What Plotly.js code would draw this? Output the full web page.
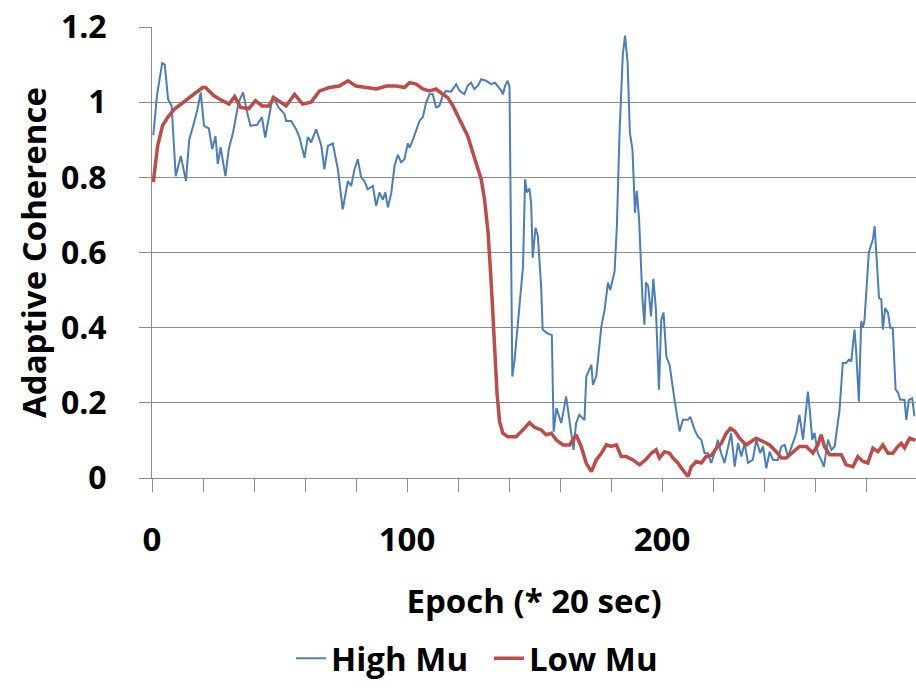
<!DOCTYPE html>
<html>
<head>
<meta charset="utf-8">
<script src="https://cdn.plot.ly/plotly-3.0.1.min.js"></script>
<style>
html,body{margin:0;padding:0;background:#fff;}
#chart{width:916px;height:692px;}
</style>
</head>
<body>
<div id="chart"></div>
<script>
// ---- data ----
const seriesNames = ["High Mu", "Low Mu"];

const highMuEpoch = [0.5,2,4,5,6.3,7.7,9.3,11.3,13.3,14.6,16.5,17.8,19.1,20.4,22.3,23.6,24.9,25.8,26.9,28.8,30.1,31.8,34,35.7,37.3,38.6,41.2,43.1,44.4,45.7,47.4,49.6,52,52.6,54.6,56.5,57.8,59.8,61.1,62.4,64.4,66.4,67.6,69,70.9,72.9,74.8,76.8,78.1,79.4,80.7,82,83.3,84.6,86.6,87.9,89.2,90.5,91.5,92.5,93.8,95.1,96.4,97.7,99,100.3,101,102.3,103.6,104.9,106.2,107.5,108.8,110.1,111.4,112.7,114,115.3,117.3,119.3,120.6,122.5,123.8,125.1,126.4,127.8,129.1,131,133,134.5,137,137.6,138.5,139.5,140.2,141.3,142.2,144.2,145.5,146.3,147,148,148.7,149.3,150.4,151.3,152.6,153.2,155,156.8,157.5,158.6,160.5,162.4,163.7,165.3,166.3,167.6,169.6,170.3,172.3,172.9,174.2,176.2,177.5,178.8,179.7,181.4,182.3,183.3,184.6,185.5,186.5,187.4,188.4,189.4,190.1,191,192.3,193.1,193.7,194.6,195.7,196.6,197.6,198.8,199.7,200.6,201.7,203,204.9,206.9,208.2,210.2,211.1,212.8,214.1,215.4,216.7,218,219.3,220.6,221.9,223.2,224.5,225.8,227.1,228.5,229.8,231.1,232.4,233.7,235.6,237,238.5,239.6,240.9,242.2,243.5,245.4,246.8,248.1,249.4,251.3,252.6,253.9,255.3,256.6,257.2,258.1,258.9,259.8,261.1,262.4,263.5,265.1,266.4,267.7,269.6,270.9,272.2,273.3,274.2,275.5,276.2,277.2,278.1,278.8,279.4,281.1,282.7,283.4,284.3,285.1,286,286.6,287.5,288.6,289.5,290.5,291.6,292.5,293.4,295.1,295.8,296.8,298.1,299];
const highMuValue = [0.912,1.02,1.104,1.1,1.008,0.99,0.803,0.857,0.79,0.9,0.946,0.98,1.026,0.937,0.93,0.875,0.91,0.835,0.88,0.803,0.875,0.92,1.0,1.026,0.973,0.937,0.94,0.96,0.906,0.955,1.017,0.986,0.968,0.95,0.95,0.928,0.907,0.852,0.907,0.893,0.928,0.884,0.821,0.884,0.89,0.821,0.715,0.79,0.777,0.821,0.848,0.8,0.79,0.768,0.777,0.724,0.76,0.74,0.76,0.72,0.757,0.83,0.86,0.84,0.848,0.89,0.879,0.9,0.928,0.95,0.96,0.999,1.021,1.021,0.986,0.99,1.017,1.03,1.028,1.048,1.03,1.021,1.044,1.052,1.035,1.044,1.061,1.057,1.048,1.052,1.03,1.021,1.044,1.057,1.04,0.27,0.315,0.457,0.563,0.795,0.76,0.77,0.73,0.586,0.666,0.645,0.51,0.395,0.385,0.38,0.123,0.186,0.146,0.217,0.154,0.075,0.146,0.168,0.154,0.27,0.301,0.248,0.27,0.403,0.448,0.52,0.5,0.55,0.67,0.91,1.124,1.177,1.106,0.919,0.874,0.706,0.764,0.69,0.48,0.408,0.52,0.51,0.43,0.53,0.45,0.235,0.42,0.44,0.323,0.3,0.208,0.124,0.155,0.155,0.163,0.128,0.11,0.102,0.066,0.066,0.04,0.066,0.102,0.066,0.04,0.084,0.119,0.03,0.093,0.057,0.093,0.04,0.048,0.102,0.066,0.084,0.026,0.07,0.048,0.048,0.084,0.088,0.057,0.093,0.119,0.168,0.102,0.19,0.23,0.17,0.102,0.12,0.066,0.048,0.03,0.102,0.075,0.084,0.18,0.306,0.306,0.315,0.31,0.395,0.33,0.203,0.417,0.4,0.42,0.6,0.635,0.67,0.572,0.479,0.475,0.395,0.452,0.44,0.4,0.4,0.235,0.228,0.208,0.208,0.155,0.208,0.212,0.164];

const lowMuEpoch = [0.5,2.2,4.1,6.1,8.7,11.3,13.9,16.5,19.8,21,24.3,27.6,30.2,32.4,34.7,38,40.6,43.2,45.8,47.8,50.4,52.6,55.9,59.1,62.4,65.7,69.6,73.5,76.8,80,84,88,91.9,95.9,99,101,103.6,106.2,108.8,111.4,114,116,118,119.9,121.9,123.8,125.8,127.8,129.1,130.4,131.8,133.1,134.4,135.3,136.3,137.6,139.5,142.8,146,148,150,152.6,154.5,156.6,158.6,161.2,163.8,166.3,168.3,170.3,172.3,174.2,176.2,178.2,180.1,182.1,184,186,188.6,191.2,193.8,195.8,197.7,199,201,203,204.3,206.2,208.2,210.2,211.5,213.4,215.4,217.3,219.3,221.3,223.2,225.2,226.8,228.5,230.4,233,235,236.9,239.6,242.2,244.8,246.8,248.7,251.3,253.9,256.6,259.2,261.1,262.4,263.7,265.7,268.3,270.3,272.2,274.9,276.8,278.8,280.7,282.7,284.7,286.6,288.6,290.5,292.5,293.8,295.1,297.1,299.4];
const lowMuValue = [0.787,0.883,0.937,0.959,0.981,0.995,1.008,1.021,1.039,1.039,1.017,1.004,0.995,1.015,0.986,0.983,1.004,0.99,0.99,1.012,1.0,0.99,1.021,0.995,1.0,1.03,1.039,1.043,1.057,1.043,1.039,1.035,1.043,1.043,1.039,1.052,1.048,1.035,1.03,1.035,1.021,1.012,0.99,0.964,0.937,0.91,0.866,0.821,0.795,0.741,0.653,0.51,0.341,0.226,0.15,0.119,0.11,0.11,0.132,0.147,0.135,0.128,0.115,0.119,0.101,0.088,0.088,0.115,0.084,0.039,0.017,0.048,0.066,0.088,0.084,0.088,0.057,0.057,0.048,0.035,0.05,0.066,0.075,0.053,0.07,0.066,0.053,0.04,0.021,0.004,0.03,0.044,0.04,0.057,0.06,0.079,0.092,0.119,0.132,0.125,0.106,0.088,0.097,0.106,0.097,0.088,0.07,0.053,0.053,0.07,0.084,0.084,0.066,0.088,0.115,0.084,0.062,0.062,0.062,0.035,0.03,0.057,0.044,0.04,0.079,0.07,0.088,0.066,0.066,0.084,0.092,0.08,0.106,0.1];

const xTickValues = [0, 100, 200];
const xTickLabels = ["0", "100", "200"];
const yTickValues = [0, 0.2, 0.4, 0.6, 0.8, 1, 1.2];
const yTickLabels = ["0", "0.2", "0.4", "0.6", "0.8", "1", "1.2"];
const xTitle = "Epoch (* 20 sec)";
const yTitle = "Adaptive Coherence";

// ---- styles ----
const FONT = "'Open Sans', 'Liberation Sans', sans-serif";
const GRID = "#8c8c8c";
const legendFont = {family: FONT, size: 33, color: "#000", weight: "bold"};

const traces = [
  {x: highMuEpoch, y: highMuValue, name: seriesNames[0], type: "scatter", mode: "lines",
   legend: "legend", line: {color: "#4A7EBB", width: 2}},
  {x: lowMuEpoch, y: lowMuValue, name: seriesNames[1], type: "scatter", mode: "lines",
   legend: "legend2", line: {color: "#BE4B48", width: 3.5}}
];

const layout = {
  width: 916, height: 692,
  margin: {l: 152, r: 0, t: 27, b: 214, pad: 0},
  paper_bgcolor: "#ffffff", plot_bgcolor: "#ffffff",
  font: {family: FONT, color: "#000", size: 30, weight: "bold"},
  showlegend: true,
  legend: {orientation: "h", x: 0.182, xanchor: "left", y: -0.40, yanchor: "middle",
           font: legendFont, itemwidth: 30, bgcolor: "rgba(0,0,0,0)"},
  legend2: {orientation: "h", x: 0.441, xanchor: "left", y: -0.40, yanchor: "middle",
           font: legendFont, itemwidth: 30, bgcolor: "rgba(0,0,0,0)"},
  xaxis: {
    range: [0, 299.6], showgrid: false, zeroline: false,
    showline: true, linecolor: GRID, linewidth: 1,
    tickmode: "array", tickvals: xTickValues, ticktext: xTickLabels,
    ticks: "outside", ticklen: 13, tickcolor: GRID, tickwidth: 1,
    ticklabelstandoff: 19,
    minor: {dtick: 20, tick0: 0, ticks: "outside", ticklen: 13, tickcolor: GRID, showgrid: false},
    tickfont: {family: FONT, size: 33, color: "#000", weight: "bold"},
    title: {text: xTitle, standoff: 30, font: {family: FONT, size: 33, color: "#000", weight: "bold"}},
    automargin: false, fixedrange: true
  },
  yaxis: {
    range: [0, 1.2], showgrid: true, gridcolor: GRID, gridwidth: 1, zeroline: false,
    showline: true, linecolor: GRID, linewidth: 1,
    tickmode: "array", tickvals: yTickValues, ticktext: yTickLabels,
    ticks: "outside", ticklen: 12, tickcolor: GRID, tickwidth: 1,
    ticklabelstandoff: 26,
    tickfont: {family: FONT, size: 32, color: "#000", weight: "bold"},
    title: {text: yTitle, standoff: 4, font: {family: FONT, size: 33, color: "#000", weight: "bold"}},
    automargin: false, fixedrange: true
  }
};

Plotly.newPlot("chart", traces, layout, {staticPlot: true, displayModeBar: false});
</script>
</body>
</html>
